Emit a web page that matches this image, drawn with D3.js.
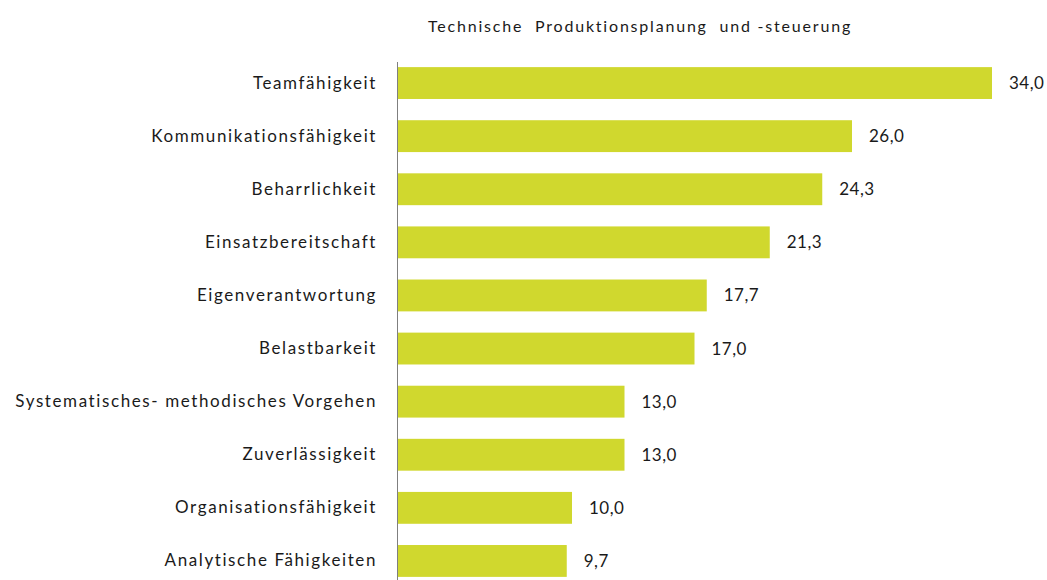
<!DOCTYPE html>
<html>
<head>
<meta charset="utf-8">
<script src="https://cdn.jsdelivr.net/npm/d3@7"></script>
<style>
  body { margin: 0; background: #fff; }
  svg text { font-family: Lato, "Noto Sans", sans-serif; fill: #1a1a1a; }
</style>
</head>
<body>
<svg id="chart" width="1047" height="580"></svg>
<script>
// Daten
const title = 'Technische  Produktionsplanung  und -steuerung';
const categories = [
  'Teamfähigkeit',
  'Kommunikationsfähigkeit',
  'Beharrlichkeit',
  'Einsatzbereitschaft',
  'Eigenverantwortung',
  'Belastbarkeit',
  'Systematisches- methodisches Vorgehen',
  'Zuverlässigkeit',
  'Organisationsfähigkeit',
  'Analytische Fähigkeiten'
];
const values = [34.0, 26.0, 24.3, 21.3, 17.7, 17.0, 13.0, 13.0, 10.0, 9.7];

const svg = d3.select('#chart');

const x = d3.scaleLinear().domain([0, 34]).range([397, 992]);
const y = d3.scaleBand()
  .domain(categories)
  .range([56.5, 587.5])
  .paddingInner(0.4)
  .paddingOuter(0.2);

const fmt = v => d3.format('.1f')(v).replace('.', ',');

svg.append('text')
  .attr('x', 640)
  .attr('y', 32)
  .attr('text-anchor', 'middle')
  .attr('font-size', 16)
  .attr('letter-spacing', 1.8)
  .style('white-space', 'pre')
  .text(title);

const rows = categories.map((c, i) => ({ c, v: values[i] }));

svg.selectAll('rect.bar')
  .data(rows)
  .join('rect')
  .attr('class', 'bar')
  .attr('x', x(0))
  .attr('y', d => y(d.c))
  .attr('width', d => x(d.v) - x(0))
  .attr('height', y.bandwidth())
  .attr('fill', '#d0d82e');

svg.selectAll('text.val')
  .data(rows)
  .join('text')
  .attr('class', 'val')
  .attr('x', d => x(d.v) + 17)
  .attr('y', d => y(d.c) + y.bandwidth() / 2)
  .attr('dy', '0.35em')
  .attr('font-size', 17)
  .attr('letter-spacing', 0.5)
  .text(d => fmt(d.v));

// y-Achse: nur Linie und Beschriftungen
const axis = svg.append('g')
  .attr('transform', `translate(${x(0)},0)`)
  .call(d3.axisLeft(y).tickSize(0).tickPadding(20));
axis.select('.domain').remove();
axis.selectAll('text')
  .attr('font-size', 17)
  .attr('letter-spacing', 1.6)
  .style('font-family', 'Lato, "Noto Sans", sans-serif')
  .attr('fill', '#1a1a1a');

svg.append('line')
  .attr('x1', x(0) + 0.5).attr('x2', x(0) + 0.5)
  .attr('y1', 62).attr('y2', 580)
  .attr('stroke', '#7f7f7f')
  .attr('stroke-width', 1);
</script>
</body>
</html>
